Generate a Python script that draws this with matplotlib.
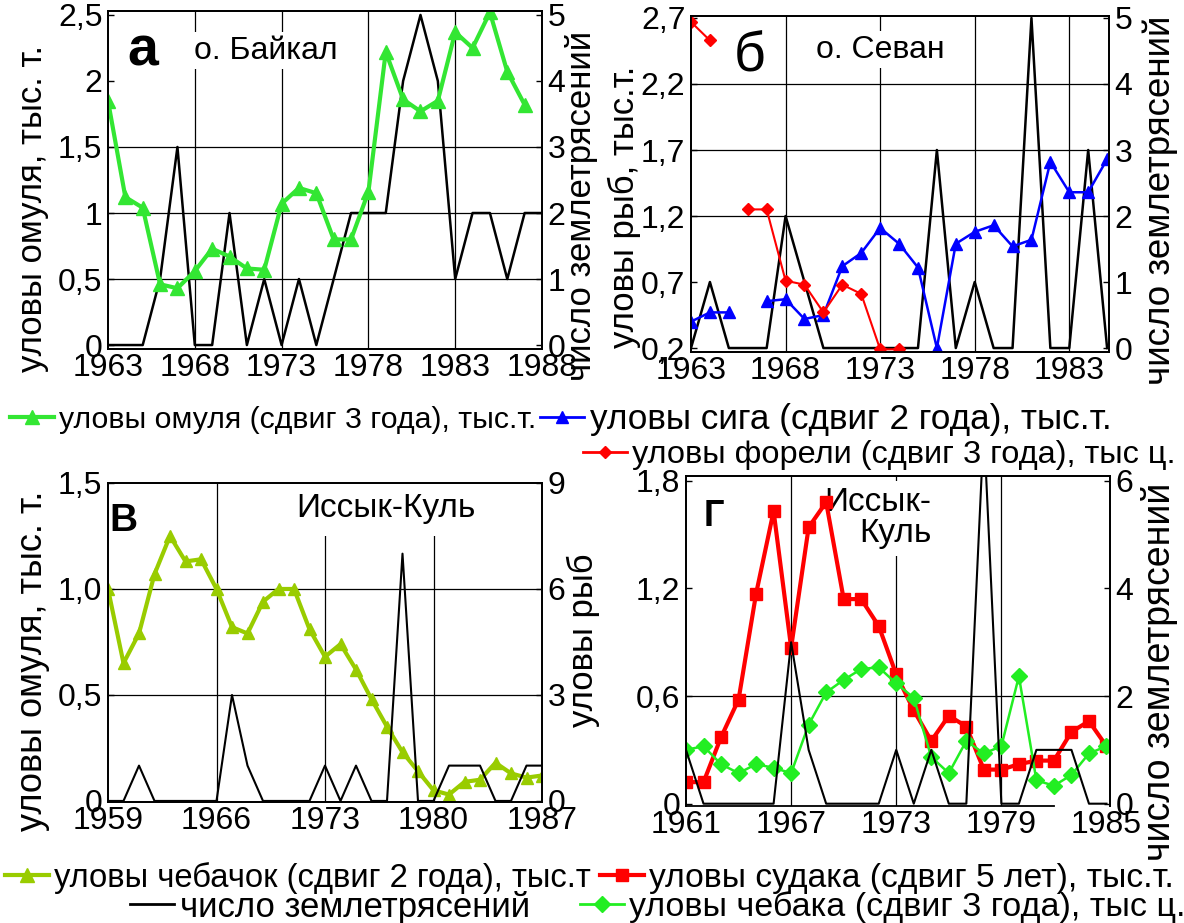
import numpy as np
import matplotlib
matplotlib.use("Agg")
import matplotlib.pyplot as plt
from matplotlib.lines import Line2D

W, H = 1184, 923

plt.rcParams["font.family"] = ["Liberation Sans", "DejaVu Sans"]

# ---------------- data ----------------
# а) Baikal
years_a = np.arange(1963, 1989)
omul_a = [1.85, 1.12, 1.04, 0.46, 0.43, 0.56, 0.73, 0.67, 0.58, 0.57, 1.07, 1.19, 1.15,
          0.80, 0.80, 1.16, 2.22, 1.86, 1.77, 1.85, 2.37, 2.25, 2.52, 2.07, 1.82, np.nan]
quakes_a = [0, 0, 0, 1, 3, 0, 0, 2, 0, 1, 0, 1, 0, 1, 2, 2, 2, 4, 5, 4, 1, 2, 2, 1, 2, 2]

# б) Sevan
years_b = np.arange(1963, 1986)
siga_b = [0.40, 0.47, 0.47, np.nan, 0.555, 0.57, 0.42, 0.45, 0.82, 0.92, 1.11, 0.99, 0.81,
          0.20, 0.99, 1.08, 1.13, 0.97, 1.02, 1.61, 1.38, 1.38, 1.63]
forel_b = [2.67, 2.53, np.nan, 1.25, 1.25, 0.71, 0.68, 0.47, 0.68, 0.61, 0.19, 0.19,
           np.nan, np.nan, np.nan, np.nan, np.nan, np.nan, np.nan, np.nan, np.nan, np.nan, np.nan]
quakes_b = [0, 1, 0, 0, 0, 2, 1, 0, 0, 0, 0, 0, 0, 3, 0, 1, 0, 0, 5, 0, 0, 3, 0]

# в) Issyk-Kul, chebachok
years_v = np.arange(1959, 1988)
chebachok_v = [1.00, 0.65, 0.79, 1.07, 1.25, 1.13, 1.14, 1.00, 0.82, 0.79, 0.94, 1.00, 1.00,
               0.81, 0.68, 0.74, 0.62, 0.48, 0.35, 0.23, 0.14, 0.05, 0.03, 0.09, 0.10, 0.18,
               0.13, 0.11, 0.12]
quakes_ik = [0, 0, 1, 0, 0, 0, 0, 0, 3, 1, 0, 0, 0, 0, 1, 0, 1, 0, 0, 7, 0, 0, 1, 1, 1, 0, 0, 1, 1]

# г) Issyk-Kul, sudak and chebak
years_g = np.arange(1961, 1986)
sudak_g = [0.12, 0.12, 0.37, 0.58, 1.17, 1.63, 0.87, 1.54, 1.68, 1.14, 1.14, 0.99, 0.72,
           0.52, 0.35, 0.49, 0.43, 0.19, 0.19, 0.22, 0.24, 0.24, 0.40, 0.46, 0.32]
chebak_g = [0.30, 0.32, 0.22, 0.17, 0.22, 0.20, 0.17, 0.44, 0.62, 0.69, 0.75, 0.76, 0.67,
            0.59, 0.26, 0.17, 0.35, 0.28, 0.32, 0.71, 0.13, 0.10, 0.16, 0.28, 0.32]
quakes_g = quakes_ik[2:27]

GREEN = "#33e633"
OLIVE = "#99cc00"
LIME = "#22ee22"
TICK_FS = 23

fig = plt.figure(figsize=(W / 100, H / 100), dpi=100)


def px(x, y):
    return x / W, 1 - y / H


def rect(l, t, r, b):
    return [l / W, 1 - b / H, (r - l) / W, (b - t) / H]


def panel(r, xlim, xticks, ylim, yticks, ylabels, ylim2, yticks2, hgrid, vgrid, data_on_top):
    ax = fig.add_axes(rect(*r))
    tw = ax.twinx()
    ax.set_xlim(*xlim)
    ax.set_xticks(xticks, [str(t) for t in xticks])
    ax.set_ylim(*ylim)
    ax.set_yticks(yticks, ylabels)
    tw.set_ylim(*ylim2)
    tw.set_yticks(yticks2, [str(t) for t in yticks2])
    for a in (ax, tw):
        a.tick_params(labelsize=TICK_FS, direction="in", length=4, width=1, pad=4)
        for s in a.spines.values():
            s.set_linewidth(1.3)
    ax.tick_params(axis="x", length=0, pad=3)
    for h in hgrid:
        ax.axhline(h, color="black", lw=0.9, zorder=0.5)
    for v in vgrid:
        ax.axvline(v, color="black", lw=0.9, zorder=0.5)
    if data_on_top:
        ax.set_zorder(tw.get_zorder() + 1)
        ax.patch.set_visible(False)
    return ax, tw


box = dict(boxstyle="square,pad=0.12", facecolor="white", edgecolor="none")

# ---- а ----
ax, tw = panel((108, 11, 542, 349), (1963, 1988), [1963, 1968, 1973, 1978, 1983, 1988],
               (-0.03, 2.53), [0, 0.5, 1, 1.5, 2, 2.5], ["0", "0,5", "1", "1,5", "2", "2,5"],
               (-0.06, 5.06), [0, 1, 2, 3, 4, 5], [0.5, 1, 1.5], [1968, 1973, 1978, 1983], True)
tw.plot(years_a, quakes_a, color="black", lw=1.8)
ax.plot(years_a, omul_a, color=GREEN, lw=3, marker="^", ms=10, zorder=2)
ax.text(1965.0, 2.22, "а", fontsize=40, fontweight="bold", ha="center", va="center", zorder=1)
ax.text(1972.1, 2.23, "о. Байкал", fontsize=23, ha="center", va="center", bbox=box, zorder=1)

# ---- б ----
ax, tw = panel((691, 16, 1109, 352), (1963, 1985.1), [1963, 1968, 1973, 1978, 1983],
               (0.17, 2.715), [0.2, 0.7, 1.2, 1.7, 2.2, 2.7], ["0,2", "0,7", "1,2", "1,7", "2,2", "2,7"],
               (-0.06, 5.03), [0, 1, 2, 3, 4, 5], [1.2, 1.7, 2.2], [1968, 1973, 1978, 1983], True)
tw.plot(years_b, quakes_b, color="black", lw=1.8)
ax.plot(years_b, siga_b, color="#0000ff", lw=1.8, marker="^", ms=9, zorder=2)
ax.plot(years_b, forel_b, color="#ff0000", lw=1.5, marker="D", ms=6, zorder=2)
ax.text(1966.1, 2.40, "б", fontsize=40, ha="center", va="center", zorder=1)
ax.text(1973.0, 2.46, "о. Севан", fontsize=23, ha="center", va="center", bbox=box, zorder=1)

# ---- в ----
ax, tw = panel((108, 483, 542, 802), (1959, 1987), [1959, 1966, 1973, 1980, 1987],
               (-0.005, 1.5), [0, 0.5, 1.0, 1.5], ["0", "0,5", "1,0", "1,5"],
               (-0.03, 9), [0, 3, 6, 9], [0.5, 1.0], [1966, 1973, 1980], False)
ax.plot(years_v, chebachok_v, color=OLIVE, lw=3, marker="^", ms=9, zorder=2)
tw.plot(years_v, quakes_ik, color="black", lw=1.5)
ax.text(1960.0, 1.32, "В", fontsize=28, fontweight="bold", ha="center", va="center", zorder=1)
ax.text(1976.9, 1.38, "Иссык-Куль", fontsize=24, ha="center", va="center",
        bbox=dict(boxstyle="square,pad=0.35", facecolor="white", edgecolor="none"), zorder=1)

# ---- г ----
ax, tw = panel((686, 476, 1110, 806), (1961, 1985.2), [1961, 1967, 1973, 1979, 1985],
               (-0.013, 1.826), [0, 0.6, 1.2, 1.8], ["0", "0,6", "1,2", "1,8"],
               (-0.043, 6.09), [0, 2, 4, 6], [0.6], [1967, 1973, 1979], False)
ax.spines["bottom"].set_bounds(1961, 1982)
tw.spines["bottom"].set_visible(False)
ax.plot(years_g, sudak_g, color="#ff0000", lw=3, marker="s", ms=8, zorder=2)
ax.plot(years_g, chebak_g, color=LIME, lw=1.8, marker="D", ms=8, zorder=2)
tw.plot(years_g, quakes_g, color="black", lw=1.5)
ax.text(1962.6, 1.6, "Г", fontsize=26, fontweight="bold", ha="center", va="center", zorder=1)
ax.text(1975.0, 1.59, "Иссык-\nКуль", fontsize=24, ha="right", va="center",
        multialignment="right", linespacing=1.0,
        bbox=dict(boxstyle="square,pad=0.2", facecolor="white", edgecolor="none"), zorder=1)

# ---- axis titles ----
ylab = dict(rotation=90, ha="center", va="center")
fig.text(*px(33, 208), "уловы омуля, тыс. т.", fontsize=25, **ylab)
fig.text(*px(581, 206), "число землетрясений", fontsize=25, **ylab)
fig.text(*px(624, 207), "уловы рыб, тыс.т.", fontsize=25, **ylab)
fig.text(*px(1160, 200), "число землетрясений", fontsize=26.5, **ylab)
fig.text(*px(33, 661), "уловы омуля, тыс. т.", fontsize=26, **ylab)
fig.text(*px(583, 640), "уловы рыб", fontsize=25, **ylab)
fig.text(*px(1160, 672), "число землетрясений", fontsize=27, **ylab)

# ---- legends ----
legend_items = [
    (10, 420, 21.8, dict(color=GREEN, lw=3, marker="^", ms=10), "уловы омуля (сдвиг 3 года), тыс.т."),
    (540, 420, 25.3, dict(color="#0000ff", lw=2, marker="^", ms=9), "уловы сига (сдвиг 2 года), тыс.т."),
    (583, 455, 23.4, dict(color="#ff0000", lw=2, marker="D", ms=6), "уловы форели (сдвиг 3 года), тыс ц."),
    (5, 878, 23.6, dict(color=OLIVE, lw=3, marker="^", ms=10), "уловы чебачок (сдвиг 2 года), тыс.т"),
    (600, 878, 24.2, dict(color="#ff0000", lw=3, marker="s", ms=8), "уловы судака (сдвиг 5 лет), тыс.т."),
    (130, 907, 25, dict(color="black", lw=2), "число землетрясений"),
    (580, 907, 24.5, dict(color=LIME, lw=2, marker="D", ms=8), "уловы чебака (сдвиг 3 года), тыс ц."),
]
for x, y, fs, style, label in legend_items:
    fig.legend(handles=[Line2D([], [], **style)], labels=[label], loc="center left",
               bbox_to_anchor=px(x, y), frameon=False, fontsize=fs,
               handlelength=1.45 * 22 / fs, handletextpad=0.15, borderpad=0, borderaxespad=0)

fig.savefig("out.png", dpi=100)
